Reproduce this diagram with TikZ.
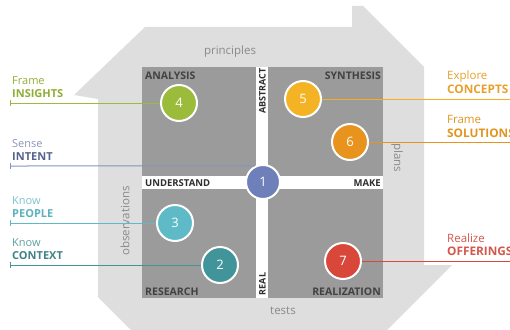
\documentclass[tikz,border=0pt]{standalone}
\usepackage{fontspec}
\setmainfont{Open Sans}
\definecolor{shapegray}{HTML}{DEDEDE}
\definecolor{quadgray}{HTML}{9B9B9B}
\definecolor{qtext}{HTML}{424242}
\definecolor{btext}{HTML}{2E2E2E}
\definecolor{flowtext}{HTML}{8A8A8A}
\definecolor{cgreen}{HTML}{9BBB3A}
\definecolor{tgreen}{HTML}{8FAE33}
\definecolor{cblue}{HTML}{6F7FBA}
\definecolor{tbluelo}{HTML}{8A93B8}
\definecolor{tbluehi}{HTML}{55628F}
\definecolor{cteal}{HTML}{5DBAC6}
\definecolor{ttealo}{HTML}{7CC4CC}
\definecolor{ttealhi}{HTML}{5AB3BE}
\definecolor{cdteal}{HTML}{41959A}
\definecolor{tdtealo}{HTML}{5F9EA1}
\definecolor{tdtealhi}{HTML}{3F8386}
\definecolor{cyellow}{HTML}{F4B324}
\definecolor{tyellow}{HTML}{E6A12E}
\definecolor{corange}{HTML}{E8931E}
\definecolor{torange}{HTML}{E0951F}
\definecolor{cred}{HTML}{D8473A}
\definecolor{tred}{HTML}{D4574C}
\begin{document}
\begin{tikzpicture}[x=1pt,y=-1pt,
  every node/.style={inner sep=0pt},
  circ/.style={circle, draw=white, line width=2pt, minimum size=36pt,
    text=white, font=\fontsize{13}{13}\selectfont},
  conn/.style={line width=1pt},
  word/.style={anchor=base west, font=\fontsize{11}{11}\selectfont},
  wordb/.style={anchor=base west, font=\fontsize{11}{11}\selectfont\bfseries},
  rword/.style={anchor=base west, font=\fontsize{11.5}{11.5}\selectfont},
  rwordb/.style={anchor=base west, font=\fontsize{11.8}{11.8}\selectfont\bfseries},
  quadlab/.style={font=\fontsize{10.5}{10.5}\selectfont\bfseries, text=qtext},
  bandlab/.style={font=\fontsize{9.5}{9.5}\selectfont\bfseries, text=btext},
  flow/.style={font=\fontsize{11.5}{11.5}\selectfont, text=flowtext}
]
\useasboundingbox (0,0) rectangle (510,329);
\clip (0,0) rectangle (510,329);

% outer arrow-shaped frame
\fill[shapegray] (145,27) -- (352,27) -- (352,6) -- (363,6) -- (424,67)
  -- (424,265) -- (452,265) -- (377,340) -- (141,340) -- (98,297)
  -- (98,99) -- (74,95) -- cycle;

% quadrants with white cross
\fill[white] (142,67) rectangle (383,298);
\fill[quadgray] (142,67) rectangle (256,176);
\fill[quadgray] (268,67) rectangle (383,176);
\fill[quadgray] (142,189) rectangle (256,298);
\fill[quadgray] (268,189) rectangle (383,298);

% quadrant titles
\node[quadlab, anchor=base west] (qa) at (145,79) {ANALYSIS};
\node[quadlab, anchor=base east] (qs) at (381,79) {SYNTHESIS};
\node[quadlab, anchor=base west] (qr) at (145,295) {RESEARCH};
\node[quadlab, anchor=base east] (qz) at (381,295) {REALIZATION};

% axis labels in the cross
\node[bandlab, anchor=base west] (bu) at (145,186.5) {UNDERSTAND};
\node[bandlab, anchor=base east] (bm) at (381,186.5) {MAKE};
\node[bandlab, font=\fontsize{9}{9}\selectfont\bfseries, rotate=90] (ba) at (262.5,91) {ABSTRACT};
\node[bandlab, font=\fontsize{9}{9}\selectfont\bfseries, rotate=90] (br) at (262.5,284) {REAL};

% flow labels on the frame
\node[flow] (fp) at (230,52) {principles};
\node[flow, rotate=-90] (fl) at (397,158) {plans};
\node[flow, rotate=90] (fo) at (125,221) {observations};
\node[flow] (ft) at (283,311) {tests};

% line ends
\coordinate (e4) at (10,103);
\coordinate (e1) at (10,166);
\coordinate (e3) at (10,223);
\coordinate (e2) at (10,265);
\coordinate (e5) at (515,99);
\coordinate (e6) at (515,142);
\coordinate (e7) at (515,261);

% circles
\node[circ, fill=cblue, minimum size=34pt] (c1) at (263,182) {1};
\node[circ, fill=cgreen] (c4) at (179,103) {4};
\node[circ, fill=cyellow] (c5) at (303,99) {5};
\node[circ, fill=corange] (c6) at (350,142) {6};
\node[circ, fill=cteal] (c3) at (175,223) {3};
\node[circ, fill=cdteal] (c2) at (220,265) {2};
\node[circ, fill=cred] (c7) at (343,261) {7};

% connectors
\draw[conn, cgreen] (e4) -- (c4);
\draw[conn, cblue!85] (e1) -- (c1.117);
\draw[conn, cteal] (e3) -- (c3);
\draw[conn, cdteal] (e2) -- (c2);
\draw[conn, cyellow!90!orange] (c5) -- (e5);
\draw[conn, corange] (c6) -- (e6);
\draw[conn, cred] (c7) -- (e7);

% end ticks
\draw[conn, cgreen] (e4) ++(0,-3) -- ++(0,6);
\draw[conn, cblue!85] (e1) ++(0,-3) -- ++(0,6);
\draw[conn, cteal] (e3) ++(0,-3) -- ++(0,6);
\draw[conn, cdteal] (e2) ++(0,-3) -- ++(0,6);

% side labels
\node[word, text=tgreen] (w4a) at (12,84) {Frame};
\node[wordb, text=tgreen] (w4b) at (12,97) {INSIGHTS};
\node[word, text=tbluelo] (w1a) at (12,147) {Sense};
\node[wordb, text=tbluehi] (w1b) at (12,160) {INTENT};
\node[word, text=ttealo] (w3a) at (12,204) {Know};
\node[wordb, text=ttealhi] (w3b) at (12,217) {PEOPLE};
\node[word, text=tdtealo] (w2a) at (12,246) {Know};
\node[wordb, text=tdtealhi] (w2b) at (12,259) {CONTEXT};
\node[rword, text=tyellow] (w5a) at (447,79) {Explore};
\node[rwordb, text=tyellow] (w5b) at (447,93) {CONCEPTS};
\node[rword, text=torange] (w6a) at (447,123) {Frame};
\node[rwordb, text=torange] (w6b) at (447,137) {SOLUTIONS};
\node[rword, text=tred] (w7a) at (447,242) {Realize};
\node[rwordb, text=tred] (w7b) at (447,255) {OFFERINGS};
\end{tikzpicture}
\end{document}
